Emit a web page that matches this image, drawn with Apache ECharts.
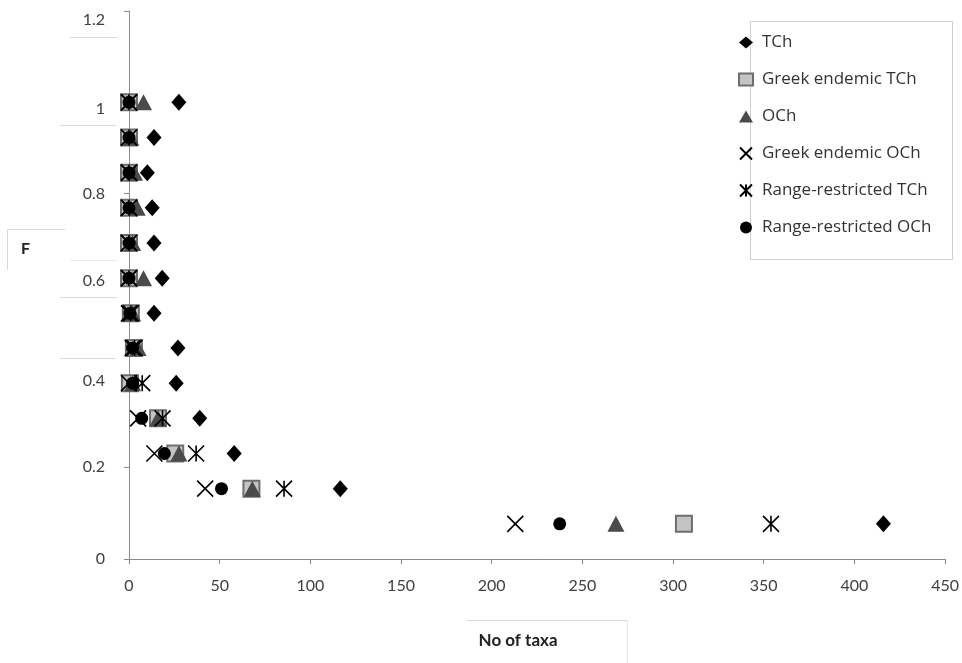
<!DOCTYPE html>
<html>
<head>
<meta charset="utf-8">
<script src="https://cdn.jsdelivr.net/npm/echarts@6/dist/echarts.min.js"></script>
<style>html,body{margin:0;padding:0;background:#fff}#c{width:962px;height:663px}</style>
</head>
<body>
<div id="c"></div>
<script>
// F levels (y values), shared by every series
var fLevels = [1, 0.923, 0.846, 0.769, 0.692, 0.615, 0.538, 0.462, 0.385, 0.308, 0.231, 0.154, 0.077];
// No of taxa (x values) per series, aligned with fLevels
var tch       = [27.5, 13.8, 10.1, 12.8, 13.8, 18.3, 13.8, 27, 26, 39, 58, 116.5, 416];
var greekTch  = [0, 0, 0, 0, 0, 0, 1, 2.7, 0.5, 16, 25.5, 67.5, 306];
var och       = [8, 1, 3, 4.5, 2, 8, 2, 5, 2, 16, 27.5, 68, 268.5];
var greekOch  = [0, 0, 0, 0, 0, 0, 0, 2, 0, 5, 14, 42, 213];
var rrTch     = [0, 0, 0, 0, 0, 0, 1, 3, 7.3, 18.5, 37, 85.5, 354];
var rrOch     = [0, 0, 0, 0, 0, 0, 0.5, 2, 2, 7, 19.5, 51, 237.5];
var seriesNames = ['TCh', 'Greek endemic TCh', 'OCh', 'Greek endemic OCh', 'Range-restricted TCh', 'Range-restricted OCh'];
var xTicks = [0, 50, 100, 150, 200, 250, 300, 350, 400, 450];
var yTicks = [0, 0.2, 0.4, 0.6, 0.8, 1, 1.2];

function pairs(xs) { return xs.map(function (x, i) { return [x, fLevels[i]]; }); }

var FONT = 'Lato';
var LEG_FONT = 'Open Sans';
// label nudges copy the hand-placed text boxes of the original figure
var labelRich = {
  d9: {padding: [18, 0, 0, 0]}, d7: {padding: [14, 0, 0, 0]}, d5: {padding: [10, 0, 0, 0]},
  u4: {padding: [0, 0, 8, 0]}, u1: {padding: [0, 0, 2, 0]}, n: {}
};
var labelStyleKey = {'1.2': 'd9', '1': 'd7', '0.8': 'n', '0.6': 'u4', '0.4': 'd5', '0.2': 'u1', '0': 'n'};
Object.keys(labelRich).forEach(function (k) {
  labelRich[k].fontFamily = FONT; labelRich[k].fontSize = 16; labelRich[k].color = '#404040';
});

var chart = echarts.init(document.getElementById('c'), null, {renderer: 'canvas'});
var boxLine = '#d9d9d9';
chart.setOption({
  animation: false,
  backgroundColor: '#fff',
  grid: {left: 129, right: 14, top: 11, bottom: 104, containLabel: false},
  xAxis: {
    type: 'value', min: xTicks[0], max: xTicks[xTicks.length - 1], interval: 50,
    name: 'No of taxa', nameLocation: 'middle', nameGap: 73,
    nameTextStyle: {fontFamily: FONT, fontSize: 17, fontWeight: 'bold', color: '#222', padding: [0, 38, 0, 0]},
    axisLine: {show: true, lineStyle: {color: '#8c8c8c', width: 1}},
    axisTick: {show: true, length: 5, lineStyle: {color: '#8c8c8c'}},
    axisLabel: {fontFamily: FONT, fontSize: 16, color: '#404040', margin: 19},
    splitLine: {show: false}
  },
  yAxis: {
    type: 'value', min: yTicks[0], max: yTicks[yTicks.length - 1], interval: 0.2,
    axisLine: {show: true, lineStyle: {color: '#8c8c8c', width: 1}},
    axisTick: {show: true, length: 5, lineStyle: {color: '#8c8c8c'}},
    axisLabel: {fontFamily: FONT, fontSize: 16, color: '#404040', margin: 24, rich: labelRich,
      formatter: function (v) { var s = String(+v.toFixed(1)); return '{' + (labelStyleKey[s] || 'n') + '|' + s + '}'; }},
    splitLine: {show: false}
  },
  legend: {
    orient: 'vertical', left: 733, top: 29,
    itemWidth: 14, itemHeight: 12, itemGap: 20,
    textStyle: {fontFamily: LEG_FONT, fontSize: 17, color: '#333', padding: [0, 0, 0, 4]},
    data: seriesNames
  },
  graphic: [
    {type: 'text', left: 21, top: 241, style: {text: 'F', font: 'bold 16px ' + FONT, fill: '#222'}},
    {type: 'rect', shape: {x: 750.5, y: 21.5, width: 202, height: 238}, style: {fill: 'none', stroke: '#d0d0d0', lineWidth: 1}, z: -1},
    {type: 'line', shape: {x1: 70, y1: 37.5, x2: 117, y2: 37.5}, style: {stroke: boxLine, lineWidth: 1}},
    {type: 'line', shape: {x1: 60, y1: 125.5, x2: 116, y2: 125.5}, style: {stroke: boxLine, lineWidth: 1}},
    {type: 'line', shape: {x1: 7, y1: 229.5, x2: 65, y2: 229.5}, style: {stroke: boxLine, lineWidth: 1}},
    {type: 'line', shape: {x1: 7.5, y1: 229, x2: 7.5, y2: 270}, style: {stroke: boxLine, lineWidth: 1}},
    {type: 'line', shape: {x1: 70, y1: 260.5, x2: 117, y2: 260.5}, style: {stroke: '#eaeaea', lineWidth: 1}},
    {type: 'line', shape: {x1: 60, y1: 297.5, x2: 117, y2: 297.5}, style: {stroke: boxLine, lineWidth: 1}},
    {type: 'line', shape: {x1: 60, y1: 358.5, x2: 115, y2: 358.5}, style: {stroke: boxLine, lineWidth: 1}},
    {type: 'line', shape: {x1: 467, y1: 620.5, x2: 628, y2: 620.5}, style: {stroke: boxLine, lineWidth: 1}},
    {type: 'line', shape: {x1: 627.5, y1: 620, x2: 627.5, y2: 663}, style: {stroke: '#e6e6e6', lineWidth: 1}}
  ],
  series: [
    {name: seriesNames[0], type: 'scatter', data: pairs(tch), symbol: 'diamond', symbolSize: [15, 17],
      itemStyle: {color: '#000', opacity: 1}},
    {name: seriesNames[1], type: 'scatter', data: pairs(greekTch), symbol: 'rect', symbolSize: 16,
      itemStyle: {color: '#c4c4c4', borderColor: '#6e6e6e', borderWidth: 2, opacity: 1}},
    {name: seriesNames[2], type: 'scatter', data: pairs(och), symbol: 'triangle', symbolSize: [17, 16],
      itemStyle: {color: '#4a4a4a', opacity: 1}},
    {name: seriesNames[3], type: 'scatter', data: pairs(greekOch), symbol: 'path://M0,0L10,10M10,0L0,10', symbolSize: 16,
      itemStyle: {color: 'rgba(0,0,0,0)', borderColor: '#000', borderWidth: 1.6, opacity: 1}},
    {name: seriesNames[4], type: 'scatter', data: pairs(rrTch), symbol: 'path://M0,0L10,10M10,0L0,10M5,0L5,10', symbolSize: 16,
      itemStyle: {color: 'rgba(0,0,0,0)', borderColor: '#000', borderWidth: 1.6, opacity: 1}},
    {name: seriesNames[5], type: 'scatter', data: pairs(rrOch), symbol: 'circle', symbolSize: 13,
      itemStyle: {color: '#000', opacity: 1}}
  ]
});
</script>
</body>
</html>
